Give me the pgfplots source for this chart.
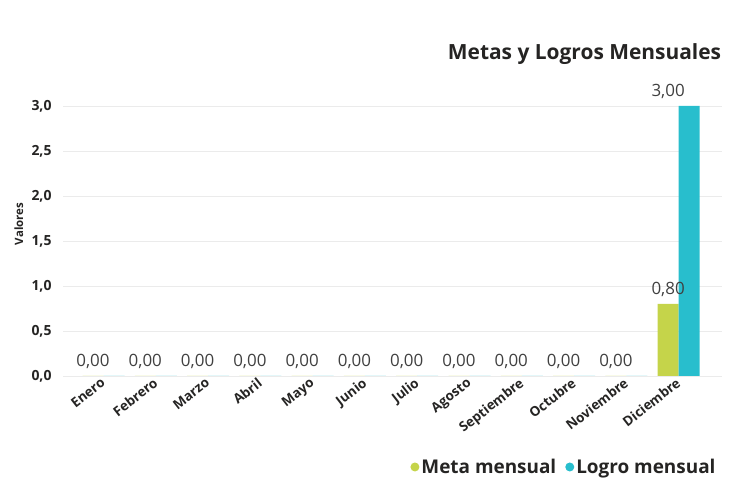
\documentclass[border=0pt]{standalone}
\usepackage{pgfplots}
\pgfplotsset{compat=1.18}
\usepackage{pgfplotstable}
\usepackage{fontspec}
\setmainfont{Open Sans}
\definecolor{metac}{RGB}{197,212,74}
\definecolor{logroc}{RGB}{40,190,205}
\definecolor{txt}{RGB}{37,36,35}
\definecolor{vtxt}{RGB}{64,64,64}
\pgfplotstableread{
x meta mlabel logro llabel
0 0 0,00 0 {}
1 0 0,00 0 {}
2 0 0,00 0 {}
3 0 0,00 0 {}
4 0 0,00 0 {}
5 0 0,00 0 {}
6 0 0,00 0 {}
7 0 0,00 0 {}
8 0 0,00 0 {}
9 0 0,00 0 {}
10 0 0,00 0 {}
11 0.8 0,80 3.0 3,00
}\datatable
\begin{document}
\begin{tikzpicture}
\path[use as bounding box] (0,0) rectangle (737bp,479bp);
\begin{axis}[
  at={(63bp,103bp)}, anchor=south west,
  scale only axis, width=659bp, height=270bp,
  xmin=-0.574, xmax=12.03, ymin=0, ymax=3,
  clip=false,
  axis x line=bottom, axis y line=left,
  axis line style={draw=none},
  major tick length=0pt,
  ymajorgrids, grid style={color=black!8, line width=0.8pt},
  ytick={0,0.5,...,3},
  yticklabel style={font=\bfseries\fontsize{14}{14}\selectfont, color=txt, xshift=-8bp,
     /pgf/number format/.cd, fixed, fixed zerofill, precision=1, use comma, assume math mode=true},
  xtick={0,...,11},
  xticklabels={Enero,Febrero,Marzo,Abril,Mayo,Junio,Julio,Agosto,Septiembre,Octubre,Noviembre,Diciembre},
  xticklabel style={font=\bfseries\fontsize{13.5}{13.5}\selectfont, color=txt, rotate=38, anchor=north east, xshift=6bp, yshift=-4bp, inner sep=1bp},
  ylabel={Valores},
  ylabel style={at={(rel axis cs:-0.067,0.563)}, anchor=center, rotate=0, font=\bfseries\fontsize{11.5}{11.5}\selectfont, color=txt},
  title={Metas y Logros Mensuales},
  title style={at={(rel axis cs:1.004,1.17)}, anchor=east, font=\bfseries\fontsize{21}{21}\selectfont, color=txt},
  legend style={at={(rel axis cs:0.998,-0.337)}, anchor=east, draw=none, fill=none,
     font=\bfseries\fontsize{19}{19}\selectfont, text=txt,
     /tikz/every even column/.append style={column sep=7bp}},
  legend columns=2,
  point meta=explicit symbolic,
  nodes near coords,
  every node near coord/.append style={font=\fontsize{17}{17}\selectfont, color=vtxt, inner sep=2bp, yshift=5bp},
]
\addplot[ybar, bar width=21bp, bar shift=0pt, fill=metac, draw=none,
  legend image code/.code={\fill[metac] (3bp,0bp) circle (4.5bp);}]
  table[x=x, y=meta, meta=mlabel] {\datatable};
\addlegendentry{Meta mensual}
\addplot[ybar, bar width=21bp, bar shift=21bp, fill=logroc, draw=none,
  legend image code/.code={\fill[logroc] (3bp,0bp) circle (4.5bp);}]
  table[x=x, y=logro, meta=llabel] {\datatable};
\addlegendentry{Logro mensual}
\end{axis}
\end{tikzpicture}
\end{document}
